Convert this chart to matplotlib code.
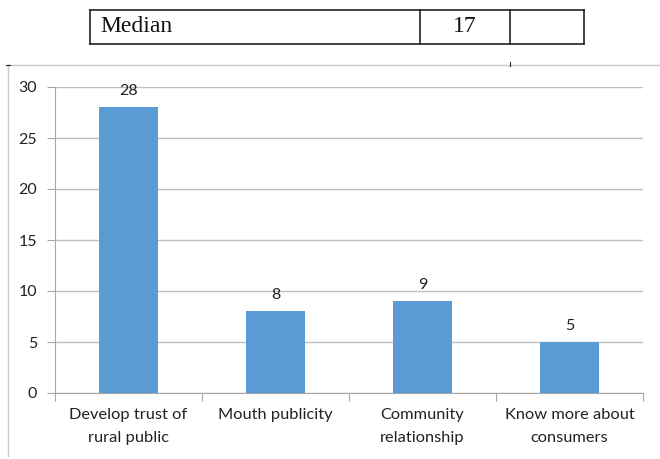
import matplotlib
matplotlib.use('Agg')
import matplotlib.pyplot as plt
from matplotlib.lines import Line2D

categories = ['Develop trust of\nrural public', 'Mouth publicity',
              'Community\nrelationship', 'Know more about\nconsumers']
values = [28, 8, 9, 5]
yticks = [0, 5, 10, 15, 20, 25, 30]
table_label = 'Median'
table_value = '17'

W, H = 660, 459
fig = plt.figure(figsize=(6.6, 4.59), dpi=100)
plt.rcParams['font.family'] = ['Lato', 'DejaVu Sans']

def fx(px):
    return px / W

def fy(py):
    return 1 - py / H

# table row above the chart
tc = '#222222'
for x in (90, 420, 510, 584):
    fig.add_artist(Line2D([fx(x), fx(x)], [fy(10), fy(44)], color=tc, lw=1.2))
for y in (10, 44):
    fig.add_artist(Line2D([fx(90), fx(584)], [fy(y), fy(y)], color=tc, lw=1.2))
fig.text(fx(100), fy(27), table_label, family='Liberation Serif', fontsize=17,
         va='center', ha='left', color='#111111')
fig.text(fx(465), fy(27), table_value, family='Liberation Serif', fontsize=17,
         va='center', ha='center', color='#111111')

# chart frame fragments
fig.add_artist(Line2D([fx(8), fx(660)], [fy(65), fy(65)], color='#c8c8c8', lw=1))
fig.add_artist(Line2D([fx(8), fx(8)], [fy(65), fy(456)], color='#c8c8c8', lw=1))
fig.add_artist(Line2D([fx(510), fx(510)], [fy(62), fy(66)], color='#222222', lw=0.8))
fig.add_artist(Line2D([fx(6), fx(10)], [fy(65), fy(65)], color='#222222', lw=0.8))

ax = fig.add_axes([fx(55), fy(393), fx(643) - fx(55), fy(87) - fy(393)])
x = range(len(values))
bars = ax.bar(x, values, width=0.4, color='#5b9bd5', zorder=3)
for b, v in zip(bars, values):
    ax.text(b.get_x() + b.get_width() / 2, v + 0.9, str(v), ha='center',
            va='bottom', fontsize=11.5, color='#222222')

ax.set_xlim(-0.5, len(values) - 0.5)
ax.set_ylim(0, 30)
ax.set_yticks(yticks)
ax.set_yticklabels([str(t) for t in yticks], fontsize=11.5, color='#222222')
ax.yaxis.grid(True, color='#bfbfbf', lw=1, zorder=0)
ax.tick_params(axis='y', length=6, color='#a6a6a6', pad=7)

ax.set_xticks([i - 0.5 for i in range(len(values) + 1)])
ax.set_xticklabels([])
ax.set_xticks(list(x), minor=True)
ax.set_xticklabels(categories, minor=True, fontsize=11.8, color='#222222',
                   linespacing=1.75)
ax.tick_params(axis='x', which='major', length=6, color='#a6a6a6')
ax.tick_params(axis='x', which='minor', length=0, pad=11)

for s in ('top', 'right'):
    ax.spines[s].set_visible(False)
for s in ('left', 'bottom'):
    ax.spines[s].set_color('#a6a6a6')

fig.savefig('out.png', dpi=100)
